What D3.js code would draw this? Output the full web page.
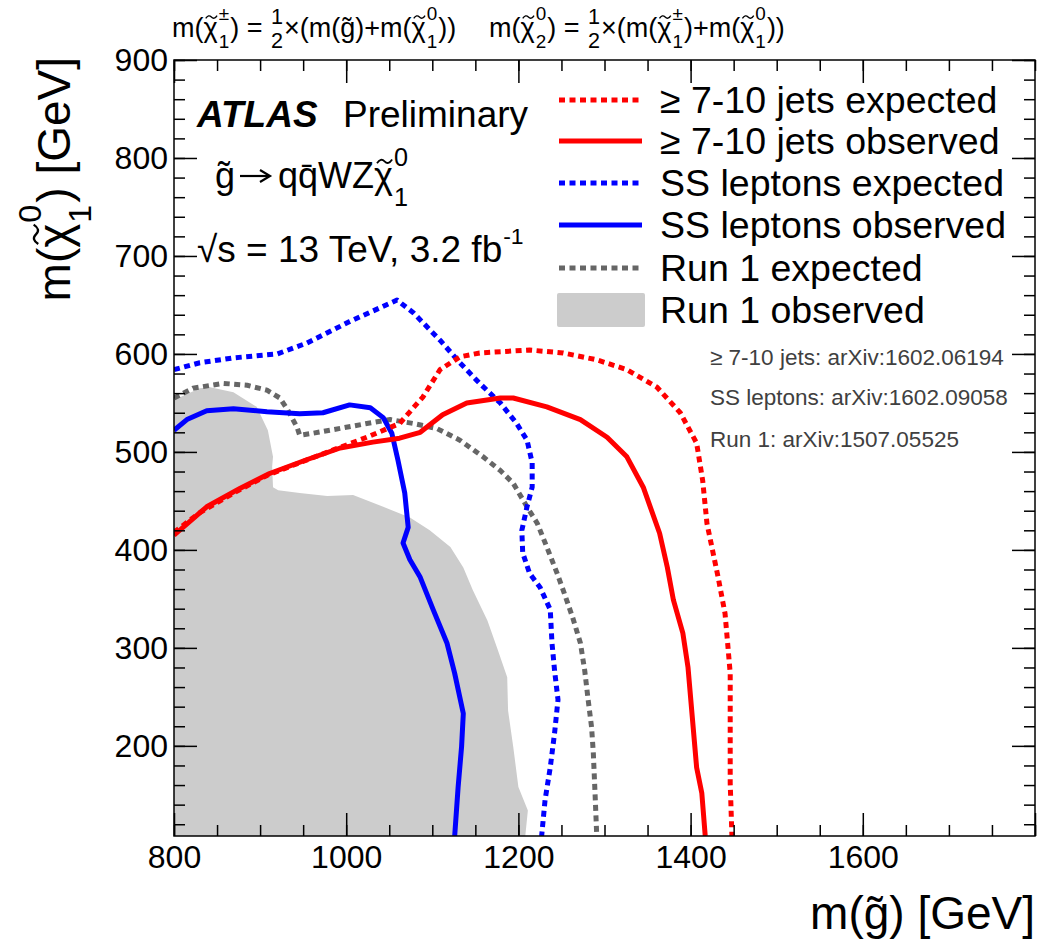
<!DOCTYPE html>
<html>
<head>
<meta charset="utf-8">
<script src="https://cdn.jsdelivr.net/npm/d3@7"></script>
<style>
  html, body { margin: 0; padding: 0; background: #fff; }
  svg { display: block; }
</style>
</head>
<body>
<svg id="chart" width="1040" height="942"></svg>
<script>
// Exclusion contours in the (m(gluino), m(LSP)) plane, values in GeV.
const run1Observed = [
  [800, 553], [830, 565], [842, 566], [869, 561], [896, 546], [909, 522],
  [915, 495], [914, 485], [915, 464], [921, 461], [946, 458], [978, 455],
  [1008, 456], [1043, 444], [1074, 433], [1097, 420], [1121, 403], [1136, 382],
  [1147, 359], [1164, 328], [1176, 298], [1187, 270], [1188, 236], [1194, 199],
  [1200, 158], [1211, 134], [1208, 108], [800, 108]
];
const run1Expected = [
  [800, 555], [822, 565], [857, 570], [885, 568], [908, 563], [923, 555],
  [932, 543], [943, 525], [946, 517], [961, 519], [993, 524], [1024, 529],
  [1051, 533], [1078, 529], [1105, 524], [1132, 512], [1159, 495], [1179, 481],
  [1194, 468], [1210, 444], [1222, 427], [1233, 403], [1245, 376], [1252, 359],
  [1263, 331], [1272, 305], [1277, 277], [1281, 247], [1285, 219], [1287, 193],
  [1289, 152], [1291, 108]
];
const ssExpected = [
  [800, 584], [830, 591], [869, 596], [920, 600], [954, 611], [1004, 633],
  [1059, 655], [1078, 642], [1109, 614], [1132, 591], [1155, 570], [1179, 550],
  [1198, 529], [1210, 512], [1216, 489], [1216, 464], [1210, 444], [1204, 420],
  [1205, 397], [1213, 376], [1225, 362], [1237, 339], [1239, 305], [1242, 277],
  [1246, 247], [1242, 213], [1237, 178], [1231, 145], [1227, 108]
];
const ssObserved = [
  [800, 522], [815, 533], [838, 542], [869, 544], [908, 541], [946, 539],
  [973, 540], [1004, 548], [1028, 545], [1043, 535], [1053, 519], [1060, 492],
  [1068, 458], [1072, 423], [1066, 407], [1074, 390], [1086, 372], [1101, 339],
  [1117, 305], [1126, 274], [1136, 233], [1134, 199], [1130, 158], [1126, 108]
];
const jetsExpected = [
  [800, 418], [830, 438], [869, 458], [908, 476], [946, 489], [985, 502],
  [1024, 515], [1062, 529], [1089, 556], [1109, 584], [1132, 597], [1155, 601],
  [1213, 604], [1252, 601], [1291, 594], [1326, 584], [1361, 566], [1388, 540],
  [1407, 509], [1414, 471], [1419, 427], [1432, 372], [1440, 335], [1443, 305],
  [1446, 274], [1446, 213], [1446, 162], [1448, 108]
];
const jetsObserved = [
  [800, 415], [838, 444], [877, 463], [911, 478], [954, 492], [993, 504],
  [1031, 510], [1062, 514], [1086, 520], [1112, 538], [1140, 550], [1179, 555],
  [1194, 555], [1233, 546], [1272, 533], [1303, 515], [1326, 495], [1345, 464],
  [1364, 417], [1373, 382], [1380, 349], [1391, 315], [1397, 280], [1402, 229],
  [1407, 178], [1413, 152], [1417, 108]
];

// Axis settings
const xDomain = [800, 1800];
const yDomain = [108, 900];
const xMajorTicks = [800, 1000, 1200, 1400, 1600];
const yMajorTicks = [200, 300, 400, 500, 600, 700, 800, 900];

// Legend entries
const legendLabels = [
  "\u2265 7-10 jets expected",
  "\u2265 7-10 jets observed",
  "SS leptons expected",
  "SS leptons observed",
  "Run 1 expected",
  "Run 1 observed"
];
const references = [
  "\u2265 7-10 jets: arXiv:1602.06194",
  "SS leptons: arXiv:1602.09058",
  "Run 1: arXiv:1507.05525"
];

const FONT = "'Liberation Sans', Arial, Helvetica, sans-serif";
const svg = d3.select("#chart").attr("font-family", FONT);

const L = 174, R = 1035, T = 60, B = 836;
const x = d3.scaleLinear().domain(xDomain).range([L, R]);
const y = d3.scaleLinear().domain(yDomain).range([B, T]);

svg.append("defs").append("clipPath").attr("id", "plotClip")
  .append("rect").attr("x", L).attr("y", T).attr("width", R - L).attr("height", B - T);

const plot = svg.append("g").attr("clip-path", "url(#plotClip)");
const line = d3.line().x(d => x(d[0])).y(d => y(d[1]));

const styles = {
  jetsExp: { color: "#ff0000", dash: "6,4.5" },
  jetsObs: { color: "#ff0000", dash: null },
  ssExp: { color: "#0000ff", dash: "6,4.5" },
  ssObs: { color: "#0000ff", dash: null },
  run1Exp: { color: "#666666", dash: "6,4.5" }
};

// Run 1 observed excluded region
plot.append("path").datum(run1Observed)
  .attr("d", d => line(d) + "Z")
  .attr("fill", "#cccccc").attr("stroke", "none");

const curves = [
  [run1Expected, styles.run1Exp],
  [ssExpected, styles.ssExp],
  [ssObserved, styles.ssObs],
  [jetsExpected, styles.jetsExp],
  [jetsObserved, styles.jetsObs]
];
curves.forEach(([data, st]) => {
  plot.append("path").datum(data)
    .attr("d", line)
    .attr("fill", "none")
    .attr("stroke", st.color)
    .attr("stroke-width", 5)
    .attr("stroke-linejoin", "round")
    .attr("stroke-dasharray", st.dash);
});

// Axes with inward ticks on all four sides
const xMinor = d3.range(xDomain[0], xDomain[1] + 1, 50);
const yMinor = d3.range(120, 901, 20);
function styleAxis(g) {
  g.select(".domain").remove();
  g.selectAll(".tick line").attr("stroke", "#000").attr("stroke-width", 1.5);
  g.selectAll("text").attr("font-family", FONT).attr("fill", "#000");
}
// minor
svg.append("g").attr("transform", `translate(0,${B})`)
  .call(d3.axisBottom(x).tickValues(xMinor).tickSize(-11).tickFormat("")).call(styleAxis);
svg.append("g").attr("transform", `translate(0,${T})`)
  .call(d3.axisTop(x).tickValues(xMinor).tickSize(-11).tickFormat("")).call(styleAxis);
svg.append("g").attr("transform", `translate(${L},0)`)
  .call(d3.axisLeft(y).tickValues(yMinor).tickSize(-11).tickFormat("")).call(styleAxis);
svg.append("g").attr("transform", `translate(${R},0)`)
  .call(d3.axisRight(y).tickValues(yMinor).tickSize(-11).tickFormat("")).call(styleAxis);
// major
svg.append("g").attr("transform", `translate(0,${B})`)
  .call(d3.axisBottom(x).tickValues(xMajorTicks.concat([1800])).tickSize(-23).tickPadding(9)
    .tickFormat(d => d === 1800 ? "" : d))
  .call(styleAxis)
  .selectAll("text").attr("font-size", 32);
svg.append("g").attr("transform", `translate(0,${T})`)
  .call(d3.axisTop(x).tickValues(xMajorTicks).tickSize(-23).tickFormat("")).call(styleAxis);
svg.append("g").attr("transform", `translate(${L},0)`)
  .call(d3.axisLeft(y).tickValues(yMajorTicks).tickSize(-23).tickPadding(6))
  .call(styleAxis)
  .selectAll("text").attr("font-size", 32);
svg.append("g").attr("transform", `translate(${R},0)`)
  .call(d3.axisRight(y).tickValues(yMajorTicks).tickSize(-23).tickFormat("")).call(styleAxis);

// frame
svg.append("rect").attr("x", L).attr("y", T).attr("width", R - L).attr("height", B - T)
  .attr("fill", "none").attr("stroke", "#000").attr("stroke-width", 1.5);

// Rich text helper: plain strings, chi with tilde, stacked sup/sub pairs, simple fractions
function rich(parent, x0, y0, size, items) {
  const g = parent.append("g");
  let cx = x0;
  const add = (t, xx, yy, fs, anchor) => {
    const el = g.append("text").attr("x", xx).attr("y", yy).attr("font-size", fs).text(t);
    if (anchor) el.attr("text-anchor", anchor);
    return el.node().getComputedTextLength();
  };
  items.forEach(it => {
    if (typeof it === "string") {
      cx += add(it, cx, y0, size);
    } else if (it.tilde) {
      const w = add(it.tilde, cx, y0, size);
      const tw = size * 0.42, h = size * 0.05;
      const tx = cx + (w - tw) / 2 + size * 0.03, ty = y0 - size * 0.74;
      g.append("path")
        .attr("d", `M${tx},${ty + h} Q${tx + tw / 4},${ty - 2.2 * h} ${tx + tw / 2},${ty} T${tx + tw},${ty - h}`)
        .attr("fill", "none").attr("stroke", "#000").attr("stroke-width", Math.max(1, size * 0.05));
      cx += w;
    } else if (it.frac) {
      const fs = size * 0.8;
      const probe = g.append("text").attr("font-size", fs).text(it.frac[0]);
      const w = Math.max(probe.node().getComputedTextLength(), 8);
      probe.remove();
      add(it.frac[0], cx + w / 2 + 1, y0 - size * 0.48, fs, "middle");
      add(it.frac[1], cx + w / 2 + 1, y0 + size * 0.42, fs, "middle");
      cx += w + 2;
    } else {
      let w = 0;
      const fs = size * (it.scale || 0.7);
      const sx = cx + (it.gap || 0);
      if (it.sup) w = Math.max(w, add(it.sup, sx, y0 - size * (it.supDy || 0.5), fs));
      if (it.sub) w = Math.max(w, add(it.sub, sx, y0 + size * (it.subDy || 0.35), fs));
      cx = sx + w + (it.after || 0);
    }
  });
  return g;
}

const CHI = { tilde: "\u03C7" };
const gl = "g\u0303";
const EQ = ")\u00A0=\u00A0";
// Mass relations above the frame
const ss1 = (sup, sub) => ({ sup, sub, supDy: 0.62, subDy: 0.42, gap: 1, after: 1 });
rich(svg, 172, 37, 27, [
  "m(", CHI, ss1("\u00B1", "1"), EQ, { frac: ["1", "2"] },
  "\u00D7(m(", gl, ")+m(", CHI, ss1("0", "1"), "))"
]);
rich(svg, 489, 37, 27, [
  "m(", CHI, ss1("0", "2"), EQ, { frac: ["1", "2"] },
  "\u00D7(m(", CHI, ss1("\u00B1", "1"), ")+m(", CHI, ss1("0", "1"), "))"
]);

// ATLAS label
svg.append("text").attr("x", 197).attr("y", 127).attr("font-size", 37)
  .attr("font-weight", "bold").attr("font-style", "italic").text("ATLAS");
svg.append("text").attr("x", 343).attr("y", 127).attr("font-size", 37).text("Preliminary");

// Decay chain: gluino -> q qbar W Z neutralino
(function () {
  const g = rich(svg, 215, 188, 36, [gl]);
  const ax0 = 240, ax1 = 269, ay = 176;
  g.append("path").attr("d", `M${ax0},${ay} L${ax1},${ay}`)
    .attr("stroke", "#000").attr("stroke-width", 2.2);
  g.append("path").attr("d", `M${ax1 - 9},${ay - 6} L${ax1 + 1},${ay} L${ax1 - 9},${ay + 6}`)
    .attr("fill", "none").attr("stroke", "#000").attr("stroke-width", 2.2);
  rich(svg, 278, 188, 36, [
    "q", "q\u0304", "WZ", CHI, { sup: "0", sub: "1", supDy: 0.62, subDy: 0.5, gap: 1 }
  ]);
})();
rich(svg, 197, 262, 37, [
  "\u221As = 13 TeV, 3.2 fb", { sup: "-1", supDy: 0.48, scale: 0.62, gap: 1 }
]);

// Axis titles
svg.append("text").attr("x", 1035).attr("y", 929).attr("text-anchor", "end")
  .attr("font-size", 46).text("m(" + gl + ") [GeV]");
const yTitle = svg.append("g").attr("transform", "translate(70,57) rotate(-90)");
(function () {
  // title is placed so that it ends at the top of the frame
  const tmp = rich(yTitle, 0, 0, 46, [
    "m(", CHI, { sup: "0", sub: "1", supDy: 0.62, subDy: 0.45, gap: 1, after: 2 }, ") [GeV]"
  ]);
  const w = tmp.node().getBBox().width;
  tmp.attr("transform", `translate(${-w},0)`);
})();

// Legend
const legendY = [100, 141, 183, 225, 268, 310];
const legendStyles = [styles.jetsExp, styles.jetsObs, styles.ssExp, styles.ssObs, styles.run1Exp];
const legend = svg.append("g");
legendLabels.forEach((lab, i) => {
  const yy = legendY[i];
  if (i < 5) {
    const st = legendStyles[i];
    legend.append("line").attr("x1", 559).attr("x2", 642).attr("y1", yy).attr("y2", yy)
      .attr("stroke", st.color).attr("stroke-width", 5).attr("stroke-dasharray", st.dash);
  } else {
    legend.append("rect").attr("x", 557).attr("y", yy - 17).attr("width", 88).attr("height", 34)
      .attr("rx", 2).attr("fill", "#cccccc");
  }
  legend.append("text").attr("x", 660).attr("y", yy + 13).attr("font-size", 37.5).text(lab);
});

// References
const refY = [365, 405, 447];
references.forEach((r, i) => {
  svg.append("text").attr("x", 710).attr("y", refY[i]).attr("font-size", 22.5)
    .attr("fill", "#404040").text(r);
});
</script>
</body>
</html>
